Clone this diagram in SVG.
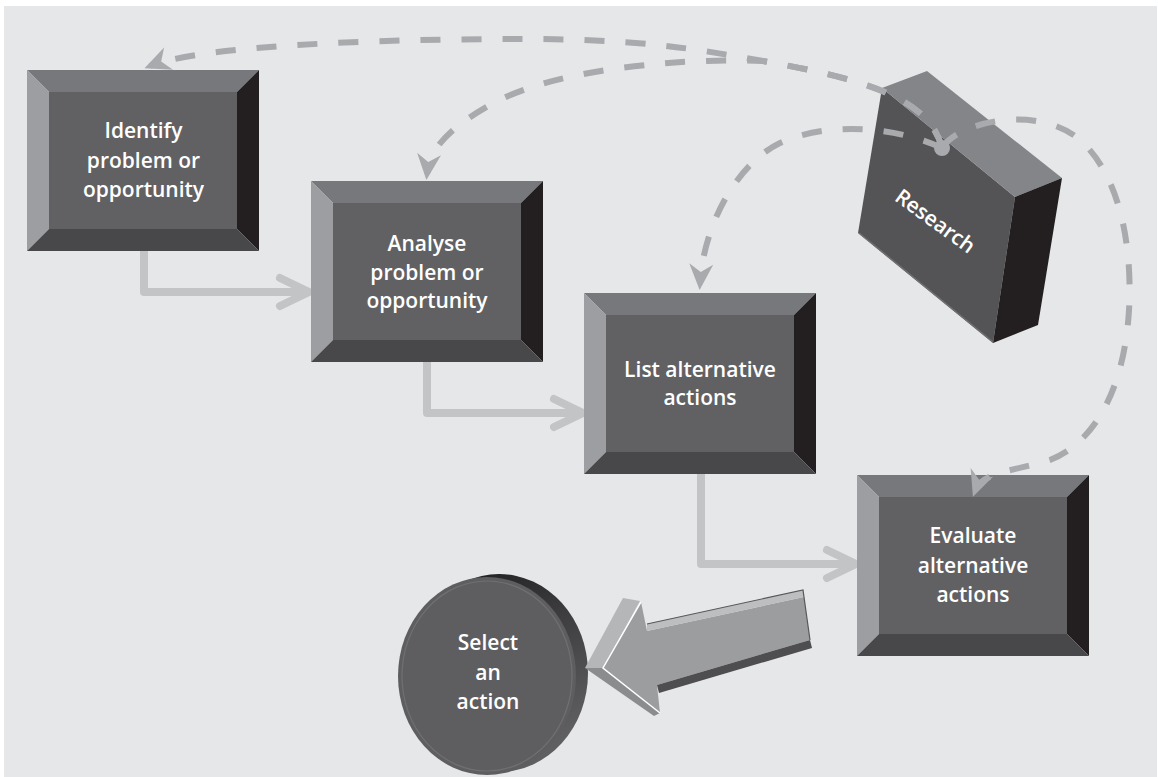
<svg xmlns="http://www.w3.org/2000/svg" xmlns:xlink="http://www.w3.org/1999/xlink" width="1158" height="777" viewBox="0 0 1158 777">
  <defs>
    <style>
      .bg { fill: #e6e7e8; }
      .bv-top { fill: #77787b; }
      .bv-left { fill: #9d9ea1; }
      .bv-right { fill: #231f20; }
      .bv-bottom { fill: #48484a; }
      .bv-face { fill: #616163; }
      .lbl { fill: #ffffff; font-family: "Open Sans", "Noto Sans", "DejaVu Sans", sans-serif; font-size: 21px; font-weight: 600; text-anchor: middle; }
      .flow { fill: none; stroke: #c3c4c6; stroke-width: 8; stroke-linejoin: round; stroke-linecap: round; }
      .head { fill: none; stroke: #c3c4c6; stroke-width: 8; stroke-linejoin: miter; stroke-linecap: round; }
      .link { fill: none; stroke: #a9aaad; stroke-width: 6; stroke-dasharray: 20 21; marker-end: url(#stealth); }
    </style>
    <marker id="stealth" markerUnits="userSpaceOnUse" viewBox="-26 -13 34 26" markerWidth="34" markerHeight="26" refX="0" refY="0" orient="auto" overflow="visible">
      <path d="M6,0 L-20,-12 L-12,0 L-20,12 Z" fill="#a9aaad"/>
    </marker>
    <linearGradient id="rim" x1="0" y1="0" x2="0.4" y2="1">
      <stop offset="0" stop-color="#19191b"/>
      <stop offset="0.45" stop-color="#3c3c3e"/>
      <stop offset="1" stop-color="#5f5f61"/>
    </linearGradient>
    <!-- bevelled box, 232 x 181 -->
    <g id="bevel-box">
      <rect class="bv-face" x="22" y="22" width="188" height="137"/>
      <polygon class="bv-top" points="0,0 232,0 210,22 22,22"/>
      <polygon class="bv-left" points="0,0 22,22 22,159 0,181"/>
      <polygon class="bv-right" points="232,0 232,181 210,159 210,22"/>
      <polygon class="bv-bottom" points="0,181 22,159 210,159 232,181"/>
    </g>
  </defs>

  <rect class="bg" x="4" y="6" width="1153" height="771"/>

  <!-- step-to-step flow lines (under the boxes) -->
  <g id="flow-connectors">
    <polyline class="flow" points="144,251 144,292 305,292"/>
    <polyline class="head" points="280,278 309,292 280,306"/>
    <polyline class="flow" points="427,362 427,413 578,413"/>
    <polyline class="head" points="554,399 583,413 554,427"/>
    <polyline class="flow" points="701,474 701,564 851,564"/>
    <polyline class="head" points="827,550 856,564 827,578"/>
  </g>

  <g id="node-identify">
    <use xlink:href="#bevel-box" x="27" y="70"/>
    <text class="lbl" x="143.5" y="138">Identify</text>
    <text class="lbl" x="143.5" y="168">problem or</text>
    <text class="lbl" x="143.5" y="197">opportunity</text>
  </g>

  <g id="node-analyse">
    <use xlink:href="#bevel-box" x="311" y="181"/>
    <text class="lbl" x="427" y="251">Analyse</text>
    <text class="lbl" x="427" y="280">problem or</text>
    <text class="lbl" x="427" y="308">opportunity</text>
  </g>

  <g id="node-list">
    <use xlink:href="#bevel-box" x="584" y="293"/>
    <text class="lbl" x="700" y="377">List alternative</text>
    <text class="lbl" x="700" y="405">actions</text>
  </g>

  <g id="node-evaluate">
    <use xlink:href="#bevel-box" x="857" y="475"/>
    <text class="lbl" x="973" y="543">Evaluate</text>
    <text class="lbl" x="973" y="573">alternative</text>
    <text class="lbl" x="973" y="602">actions</text>
  </g>

  <g id="node-research">
    <polygon fill="#545456" points="882,88 1015,197 993,343 858,233"/>
    <polygon fill="#848588" points="882,88 927,71 1062,178 1015,197"/>
    <polygon fill="#231f20" points="1015,197 1062,178 1038,325 993,343"/>
    <line x1="859" y1="233" x2="993" y2="342" stroke="#707072" stroke-width="1.5"/>
    <text class="lbl" transform="translate(931,227) rotate(36)">Research</text>
  </g>

  <g id="node-select">
    <ellipse cx="499" cy="673" rx="89" ry="99" fill="url(#rim)"/>
    <ellipse cx="487" cy="676" rx="89" ry="99" fill="#5e5e60"/>
    <ellipse cx="487" cy="676" rx="85" ry="95" fill="none" stroke="#707072" stroke-width="1.2"/>
    <text class="lbl" x="488" y="650">Select</text>
    <text class="lbl" x="488" y="680">an</text>
    <text class="lbl" x="488" y="709">action</text>
  </g>

  <!-- 3D arrow from Evaluate to Select -->
  <g id="arrow-evaluate-select">
    <polygon fill="#b5b6b8" points="585,668 623,598 640,601 603,668"/>
    <polygon fill="#9c9d9f" points="603,668 641,602 647,631 804,597 810,640 657,685 660,713"/>
    <polygon fill="#bdbec0" points="647,624 803,590 804,597 647,631"/>
    <polygon fill="#8b8c8e" points="585,668 603,668 660,713 654,716"/>
    <polygon fill="#4e4e50" points="657,685 810,640 812,648 659,693"/>
    <polyline fill="none" stroke="#ffffff" stroke-width="1.5" points="641,602 603,668 660,713"/>
    <polyline fill="none" stroke="#58585a" stroke-width="1.2" points="647,624 803,590 810,640"/>
  </g>

  <!-- research feedback links (drawn over the boxes) -->
  <g id="research-connectors">
    <path class="link" d="M942,148 C930,100 870,80 763,61 C690,48 640,39 520,39 C400,39 205,44 150,66"/>
    <path class="link" d="M942,148 C930,100 870,80 763,61 C700,58 560,65 490,105 C455,125 430,145 427,174"/>
    <path class="link" d="M942,148 C900,128 830,120 780,143 C740,162 704,220 700,284"/>
    <path class="link" d="M942,148 C960,120 1040,105 1080,140 C1125,180 1132,260 1129,310 C1125,380 1100,440 1050,460 C1010,472 982,472 975,491"/>
    <circle cx="942" cy="148" r="8" fill="#a9aaad"/>
  </g>
</svg>
